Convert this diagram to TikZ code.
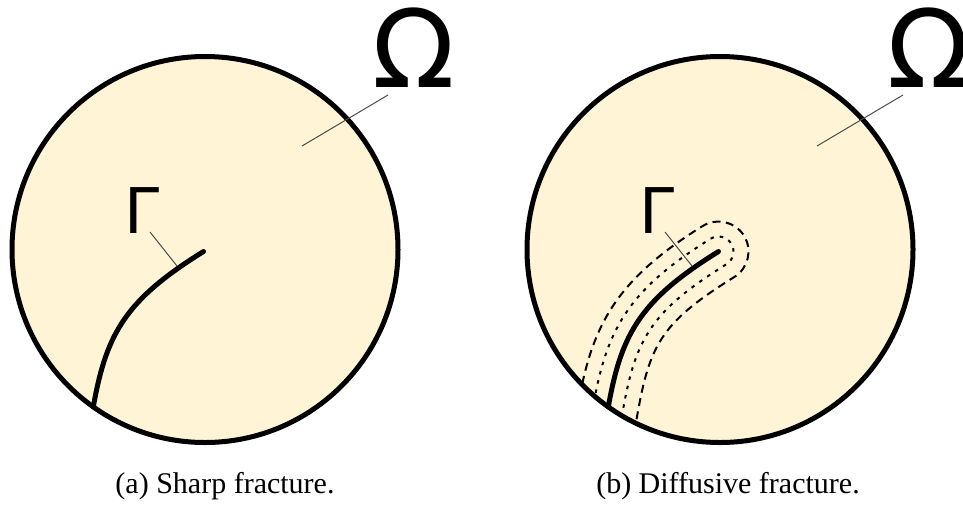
\documentclass[tikz,border=0pt]{standalone}
\usepackage{fontspec}
\setmainfont{Liberation Serif}
\newfontfamily\symfont{DejaVu Sans}
\definecolor{diskfill}{HTML}{FFF4D6}

\begin{document}
\begin{tikzpicture}[x=1pt, y=-1pt,
    disk_style/.style={draw=black, line width=5pt, fill=diskfill},
    crack_style/.style={line width=5pt, line cap=round},
    leader_style/.style={line width=1pt, draw=black!70},
    inner_band/.style={line width=2pt, dash pattern=on 3.5pt off 6pt},
    outer_band/.style={line width=2pt, dash pattern=on 8pt off 5.5pt},
    omega_style/.style={font=\symfont\fontsize{108}{110}\selectfont, inner sep=0pt, anchor=base},
    gamma_style/.style={font=\symfont\fontsize{63}{66}\selectfont, inner sep=0pt, anchor=base},
    caption_style/.style={font=\fontsize{30}{36}\selectfont, inner sep=0pt, anchor=base}
]
\useasboundingbox (0,0) rectangle (963,507);

% (a) sharp fracture
\begin{scope}
    \draw[disk_style] (205,249.5) circle[radius=193];
    \draw[crack_style] (93.3,406.9) -- (94,403) .. controls (107,332) and (127,299) .. (203.5,251.5);
    \node[omega_style] (omega_a) at (414,87) {Ω};
    \node[gamma_style] (gamma_a) at (142,233) {Γ};
    \coordinate (omega_a_from) at (388,95);
    \coordinate (omega_a_to) at (302,146);
    \coordinate (gamma_a_from) at (150,232);
    \coordinate (gamma_a_to) at (177,266);
    \draw[leader_style] (omega_a_from) -- (omega_a_to);
    \draw[leader_style] (gamma_a_from) -- (gamma_a_to);
    \node[caption_style] (cap_a) at (225,493) {(a) Sharp fracture.};
\end{scope}

% (b) diffusive fracture
\begin{scope}[shift={(515,0)}]
    \draw[disk_style] (205,249.5) circle[radius=193];
    \begin{scope}
        \clip (205,249.5) circle[radius=193];
        % offset 15
        \draw[inner_band] (72.05,439.6) -- (79.25,400.30)
            .. controls (92.74,326.58) and (116.03,288.15) .. (195.59,238.76)
            arc[start angle=-121.8, end angle=58.2, radius=15]
            .. controls (137.97,309.85) and (121.26,337.42) .. (108.75,405.70)
            -- (101.55,445.0);
        % offset 30
        \draw[outer_band] (57.29,436.9) -- (64.49,397.60)
            .. controls (78.48,321.17) and (105.07,277.30) .. (187.67,226.01)
            arc[start angle=-121.8, end angle=58.2, radius=30]
            .. controls (148.93,320.70) and (135.52,342.83) .. (123.51,408.40)
            -- (116.31,447.7);
    \end{scope}
    \draw[crack_style] (93.3,406.9) -- (94,403) .. controls (107,332) and (127,299) .. (203.5,251.5);
    \node[omega_style] (omega_b) at (414,87) {Ω};
    \node[gamma_style] (gamma_b) at (142,233) {Γ};
    \coordinate (omega_b_from) at (388,95);
    \coordinate (omega_b_to) at (302,146);
    \coordinate (gamma_b_from) at (150,232);
    \coordinate (gamma_b_to) at (177,266);
    \draw[leader_style] (omega_b_from) -- (omega_b_to);
    \draw[leader_style] (gamma_b_from) -- (gamma_b_to);
    \node[caption_style] (cap_b) at (213,493) {(b) Diffusive fracture.};
\end{scope}
\end{tikzpicture}
\end{document}
